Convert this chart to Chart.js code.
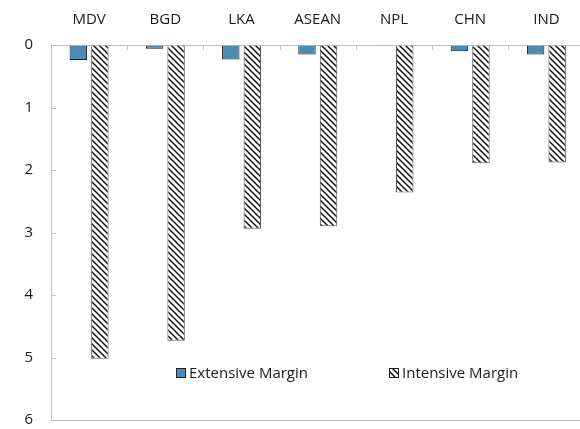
<!DOCTYPE html>
<html>
<head>
<meta charset="utf-8">
<script src="https://cdn.jsdelivr.net/npm/chart.js@4"></script>
<style>
  html, body { margin: 0; padding: 0; background: #fff; overflow: hidden; }
  #wrap { width: 586px; height: 429px; position: relative; }
</style>
</head>
<body>
<div id="wrap"><canvas id="chart"></canvas></div>
<script>
// categories and values
const countries = ['MDV', 'BGD', 'LKA', 'ASEAN', 'NPL', 'CHN', 'IND'];
const extensive = [0.24, 0.06, 0.23, 0.15, 0.01, 0.10, 0.15];
const intensive = [5.02, 4.73, 2.94, 2.90, 2.36, 1.89, 1.88];
const yTicks = [0, 1, 2, 3, 4, 5, 6];

const FONT = '"Open Sans", "Noto Sans", sans-serif';
const AXIS = '#bfbfbf';

// diagonal hatch fill like the excel pattern
function hatch() {
  const s = 6;
  const c = document.createElement('canvas');
  c.width = s; c.height = s;
  const g = c.getContext('2d');
  g.fillStyle = '#fff';
  g.fillRect(0, 0, s, s);
  g.strokeStyle = '#111';
  g.lineWidth = 1.5;
  g.beginPath();
  g.moveTo(0, 0); g.lineTo(s, s);
  g.moveTo(-1, s - 1); g.lineTo(1, s + 1);
  g.moveTo(s - 1, -1); g.lineTo(s + 1, 1);
  g.stroke();
  return g.createPattern(c, 'repeat');
}
const hatchFill = hatch();

// inner tick marks, bottom frame line and the legend inside the plot
const extras = {
  id: 'extras',
  afterDraw(chart) {
    const ctx = chart.ctx;
    const a = chart.chartArea;
    const xs = chart.scales.x, ys = chart.scales.y;
    ctx.save();
    ctx.strokeStyle = AXIS;
    ctx.lineWidth = 1;
    ctx.beginPath();
    yTicks.forEach(v => {
      const y = Math.round(ys.getPixelForValue(v)) + 0.5;
      ctx.moveTo(a.left, y); ctx.lineTo(a.left + 5, y);
    });
    for (let i = 1; i < countries.length; i++) {
      const x = Math.round((xs.getPixelForValue(i - 1) + xs.getPixelForValue(i)) / 2) + 0.5;
      ctx.moveTo(x, a.top); ctx.lineTo(x, a.top + 5);
    }
    ctx.moveTo(a.left, Math.round(a.bottom) + 0.5);
    ctx.lineTo(a.right, Math.round(a.bottom) + 0.5);
    ctx.stroke();

    // legend
    const items = chart.data.datasets.map((d, i) => ({ d, x: [176, 389][i] }));
    const ly = 368;
    ctx.font = '15px ' + FONT;
    ctx.textBaseline = 'middle';
    items.forEach(({ d, x }) => {
      ctx.fillStyle = d.backgroundColor;
      ctx.fillRect(x, ly, 10, 10);
      ctx.strokeStyle = '#222';
      ctx.strokeRect(x + 0.5, ly + 0.5, 9, 9);
      ctx.fillStyle = '#1a1a1a';
      ctx.fillText(d.label, x + 13, ly + 5.5);
    });
    ctx.restore();
  }
};

new Chart(document.getElementById('chart'), {
  type: 'bar',
  data: {
    labels: countries,
    datasets: [
      {
        label: 'Extensive Margin',
        data: extensive,
        backgroundColor: '#4a8cb1',
        borderColor: '#1a1a1a',
        borderWidth: 1,
        barPercentage: 0.81,
        categoryPercentage: 0.565
      },
      {
        label: 'Intensive Margin',
        data: intensive,
        backgroundColor: hatchFill,
        borderColor: '#555',
        borderWidth: 1,
        barPercentage: 0.81,
        categoryPercentage: 0.565
      }
    ]
  },
  options: {
    responsive: true,
    maintainAspectRatio: false,
    animation: false,
    layout: { padding: { top: 0, right: 1.5, bottom: 9, left: 0 } },
    plugins: {
      legend: { display: false },
      tooltip: { enabled: false }
    },
    scales: {
      x: {
        position: 'top',
        offset: true,
        grid: { drawOnChartArea: false, drawTicks: false },
        border: { color: AXIS },
        ticks: { color: '#1a1a1a', font: { family: FONT, size: 15 }, padding: 16, maxRotation: 0 },
        afterFit(s) { s.height = 45; }
      },
      y: {
        reverse: true,
        min: 0,
        max: 6,
        grid: { drawOnChartArea: false, drawTicks: false },
        border: { color: AXIS },
        ticks: { stepSize: 1, color: '#1a1a1a', font: { family: FONT, size: 15 }, padding: 18 },
        afterFit(s) { s.width = 51; s.paddingTop = 0; s.paddingBottom = 0; }
      }
    }
  },
  plugins: [extras]
});
</script>
</body>
</html>
